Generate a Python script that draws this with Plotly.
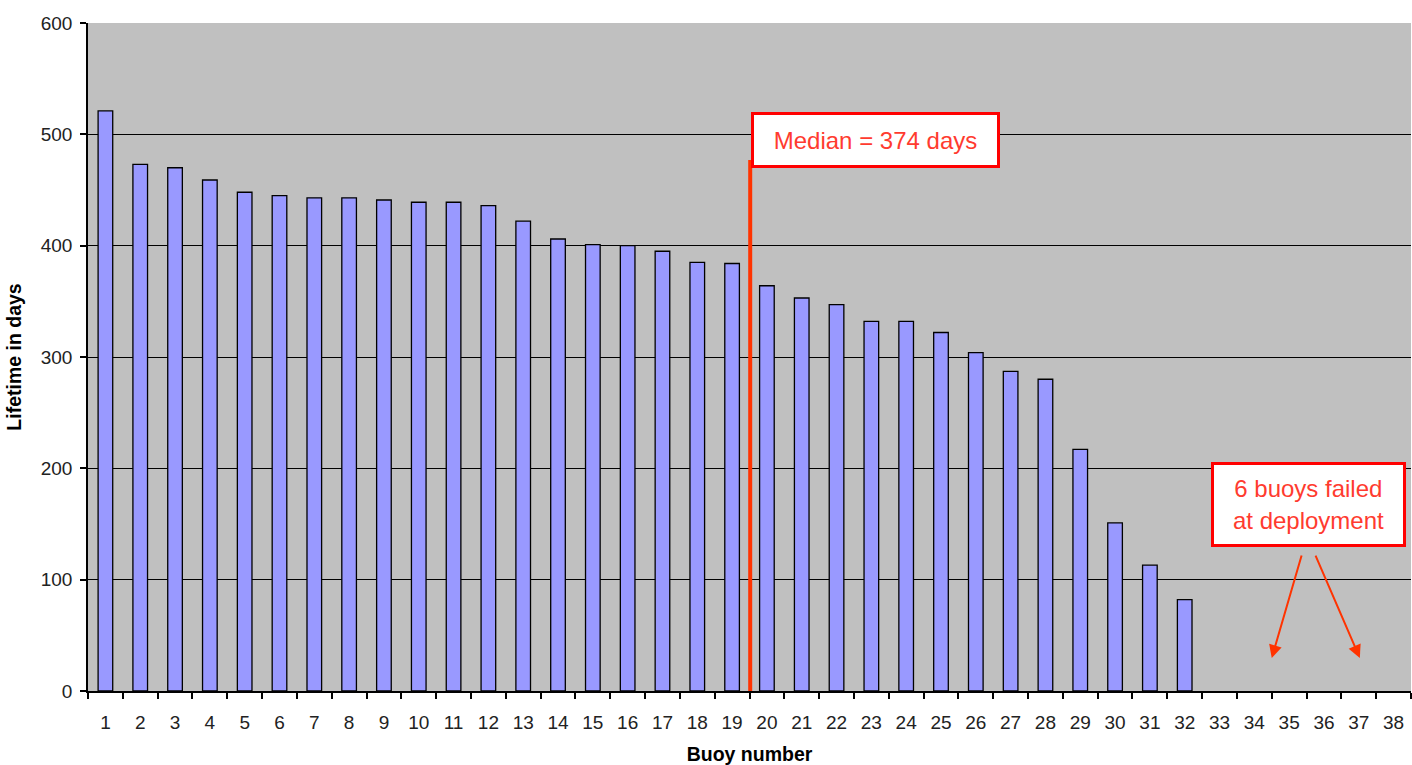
import plotly.graph_objects as go

buoys = [str(i) for i in range(1, 39)]
lifetime = [521, 473, 470, 459, 448, 445, 443, 443, 441, 439, 439, 436, 422, 406,
            401, 400, 395, 385, 384, 364, 353, 347, 332, 332, 322, 304, 287, 280,
            217, 151, 113, 82, 0, 0, 0, 0, 0, 0]
median_days = 374
median_label = "Median = 374 days"
failed_label = "6 buoys failed<br>at deployment"

fig = go.Figure()
fig.add_trace(go.Bar(
    x=buoys, y=lifetime, width=0.42,
    marker=dict(color="#9999FF",
                line=dict(color="#000000",
                          width=[1.3 if v > 0 else 0 for v in lifetime])),
))

font = "Liberation Sans, Arial, sans-serif"
red_text = "#FF3B2F"

fig.update_layout(
    width=1412, height=765,
    margin=dict(l=88, r=1, t=23, b=74),
    paper_bgcolor="white", plot_bgcolor="#C0C0C0",
    showlegend=False,
    font=dict(family=font, color="#000000", size=19),
    xaxis=dict(
        type="category", tickson="boundaries", ticks="outside", ticklen=6,
        tickcolor="black", tickwidth=1.5, showgrid=False,
        showline=True, linecolor="black", linewidth=1.5,
        tickfont=dict(size=19, color="#222222"), ticklabelstandoff=13,
        title=dict(text="<b>Buoy number</b>", font=dict(size=19.5), standoff=17),
        range=[-0.5, 37.5],
    ),
    yaxis=dict(
        range=[0, 600], tickvals=[0, 100, 200, 300, 400, 500, 600],
        ticks="outside", ticklen=6, tickcolor="black", tickwidth=1.5,
        showgrid=True, gridcolor="#000000", gridwidth=1,
        showline=True, linecolor="black", linewidth=1.5,
        tickfont=dict(size=19, color="#222222"), ticklabelstandoff=4,
        title=dict(text="<b>Lifetime in days</b>", font=dict(size=19.5), standoff=14),
        zeroline=False,
    ),
)

# median line between buoy 19 and 20
fig.add_shape(type="line", xref="x", yref="y", x0=18.52, x1=18.52, y0=0, y1=477,
              line=dict(color="#FF3300", width=4))

fig.add_annotation(
    x=22.12, y=494.5, xref="x", yref="y", text=median_label, showarrow=False,
    font=dict(size=24, color=red_text, family=font),
    bgcolor="white", bordercolor="#FF0000", borderwidth=3, borderpad=0,
    width=243, height=50, xanchor="center", yanchor="middle",
)
fig.add_annotation(
    x=34.55, y=167.5, xref="x", yref="y", text=failed_label, showarrow=False,
    font=dict(size=24, color=red_text, family=font),
    bgcolor="white", bordercolor="#FF0000", borderwidth=3, borderpad=0,
    width=189, height=79, xanchor="center", yanchor="middle",
)
for (tx, ty, hx, hy) in [(34.37, 123, 33.50, 29.6), (34.74, 123, 36.03, 29.6)]:
    fig.add_annotation(
        x=hx, y=hy, xref="x", yref="y", ax=tx, ay=ty, axref="x", ayref="y",
        text="", showarrow=True, arrowhead=2, arrowsize=1.3, arrowwidth=2,
        arrowcolor="#FF3300",
    )

fig.write_html("out.html", config={"displayModeBar": False},
               post_script="document.body.style.margin='0';document.body.style.overflow='hidden';")
